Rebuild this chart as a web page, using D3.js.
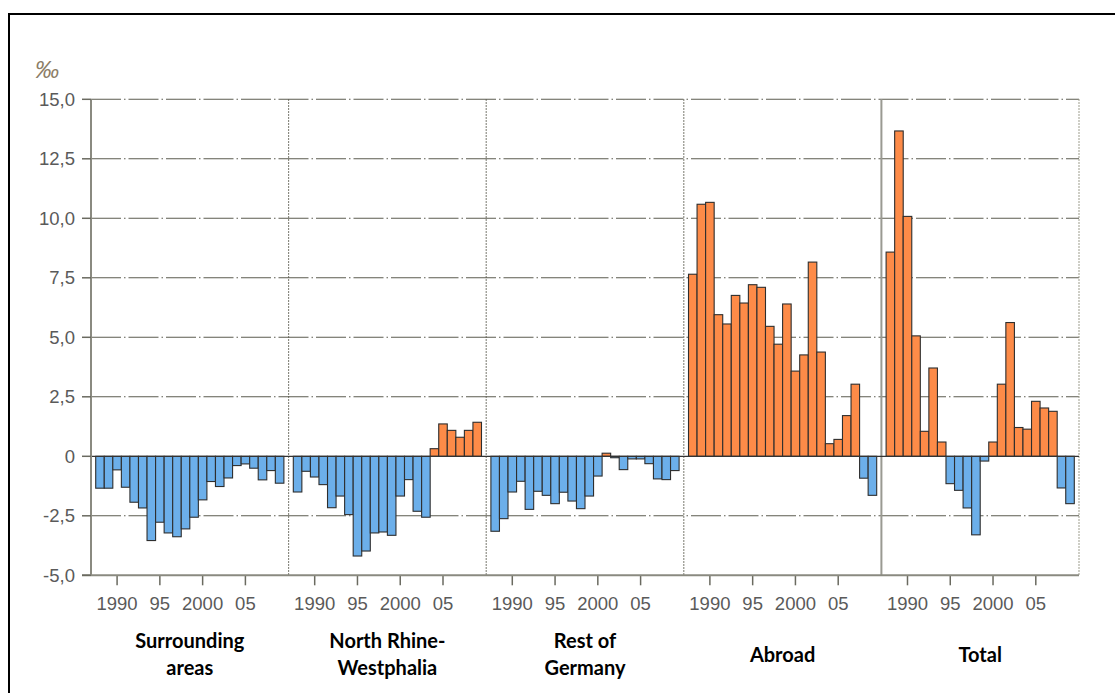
<!DOCTYPE html>
<html>
<head>
<meta charset="utf-8">
<script src="https://cdn.jsdelivr.net/npm/d3@7"></script>
<style>
  html, body { margin: 0; padding: 0; background: #fff; }
  svg { display: block; }
</style>
</head>
<body>
<svg id="chart" width="1115" height="693"></svg>
<script>
// ---------- data ----------
const years = [1988,1989,1990,1991,1992,1993,1994,1995,1996,1997,1998,1999,2000,2001,2002,2003,2004,2005,2006,2007,2008,2009];
const panels = ["Surrounding areas","North Rhine-Westphalia","Rest of Germany","Abroad","Total"];
const panelLabelLines = [["Surrounding","areas"],["North Rhine-","Westphalia"],["Rest of","Germany"],["Abroad"],["Total"]];
const surroundingAreas = [-1.34,-1.34,-0.57,-1.30,-1.93,-2.17,-3.54,-2.77,-3.22,-3.38,-3.05,-2.56,-1.83,-1.06,-1.27,-0.91,-0.39,-0.32,-0.50,-0.99,-0.60,-1.13];
const northRhineWestphalia = [-1.50,-0.63,-0.87,-1.19,-2.16,-1.67,-2.45,-4.19,-3.98,-3.22,-3.18,-3.32,-1.67,-0.98,-2.31,-2.56,0.32,1.36,1.09,0.80,1.09,1.43];
const restOfGermany = [-3.15,-2.62,-1.50,-1.05,-2.23,-1.47,-1.64,-1.99,-1.51,-1.88,-2.20,-1.67,-0.83,0.13,-0.06,-0.56,-0.11,-0.11,-0.31,-0.95,-0.98,-0.60];
const abroad = [7.65,10.59,10.67,5.95,5.56,6.76,6.44,7.21,7.10,5.46,4.71,6.40,3.58,4.26,8.16,4.38,0.53,0.71,1.71,3.03,-0.92,-1.64];
const total = [8.58,13.67,10.08,5.06,1.05,3.71,0.60,-1.15,-1.43,-2.17,-3.30,-0.20,0.60,3.03,5.62,1.21,1.14,2.31,2.03,1.89,-1.33,-1.99];
const seriesValues = [surroundingAreas, northRhineWestphalia, restOfGermany, abroad, total];
const yTicks = [15,12.5,10,7.5,5,2.5,0,-2.5,-5];
const yTickLabels = ["15,0","12,5","10,0","7,5","5,0","2,5","0","-2,5","-5,0"];
const xTickYears = [1990,1995,2000,2005];
const xTickLabels = ["1990","95","2000","05"];
const unitLabel = "‰";

// ---------- layout ----------
const svg = d3.select("#chart");
const plotLeft = 91, plotRight = 1079, plotTop = 99.3, plotBottom = 575.3;
const y = d3.scaleLinear().domain([-5, 15]).range([plotBottom, plotTop]);
const px = d3.scaleBand().domain(panels).range([plotLeft, plotRight]).padding(0);
const xIn = d3.scaleBand().domain(years).range([0, px.bandwidth()]).paddingInner(0).paddingOuter(0.55);

const posColor = "#fd8b48", negColor = "#6cafea";
const axisGray = "#8a8a80", gridColor = "#5c5c50", textGray = "#5a5a5a";

// outer frame
svg.append("rect").attr("x", 9).attr("y", 14).attr("width", 1130).attr("height", 700)
  .attr("fill", "none").attr("stroke", "#000").attr("stroke-width", 2);

// horizontal grid (dash-dot)
const gridVals = yTicks.filter(v => v !== 0 && v !== -5);
svg.append("g").selectAll("line").data(gridVals).join("line")
  .attr("x1", plotLeft).attr("x2", plotRight)
  .attr("y1", d => y(d)).attr("y2", d => y(d))
  .attr("stroke", gridColor).attr("stroke-width", 1.1)
  .attr("stroke-dasharray", "30,3,1.5,3");

// vertical dividers
panels.forEach((p, i) => {
  if (i === 0) return;
  const xx = px(p);
  if (p === "Total") {
    svg.append("line").attr("x1", xx).attr("x2", xx).attr("y1", plotTop).attr("y2", plotBottom)
      .attr("stroke", "#9a9a92").attr("stroke-width", 2);
  } else {
    svg.append("line").attr("x1", xx).attr("x2", xx).attr("y1", plotTop).attr("y2", plotBottom)
      .attr("stroke", gridColor).attr("stroke-width", 1.1).attr("stroke-dasharray", "1.5,1.5");
  }
});
svg.append("line").attr("x1", plotRight).attr("x2", plotRight).attr("y1", plotTop).attr("y2", plotBottom)
  .attr("stroke", "#9a9a8a").attr("stroke-width", 1.3).attr("stroke-dasharray", "1.5,1.5");

// bars
panels.forEach((p, i) => {
  const g = svg.append("g").attr("transform", `translate(${px(p)},0)`);
  const data = years.map((yr, k) => ({ yr, v: seriesValues[i][k] }));
  g.selectAll("rect").data(data).join("rect")
    .attr("x", d => xIn(d.yr))
    .attr("width", xIn.bandwidth())
    .attr("y", d => y(Math.max(0, d.v)))
    .attr("height", d => Math.abs(y(d.v) - y(0)))
    .attr("fill", d => d.v >= 0 ? posColor : negColor)
    .attr("stroke", "#2e2e2e").attr("stroke-width", 1.1);

  // x ticks
  const tg = g.append("g");
  xTickYears.forEach((yr, k) => {
    const cx = xIn(yr) + xIn.bandwidth() / 2;
    tg.append("line").attr("x1", cx).attr("x2", cx).attr("y1", plotBottom).attr("y2", plotBottom + 10)
      .attr("stroke", "#6a6a60").attr("stroke-width", 1.5);
    tg.append("text").attr("x", cx).attr("y", 610)
      .attr("text-anchor", "middle")
      .attr("font-family", "Liberation Sans, Arial, sans-serif")
      .attr("font-size", 18.5).attr("fill", textGray)
      .text(xTickLabels[k]);
  });

  // panel label
  const lines = panelLabelLines[i];
  const cx = px.bandwidth() / 2;
  const baselines = lines.length === 2 ? [648, 675] : [662];
  lines.forEach((ln, j) => {
    g.append("text").attr("x", cx).attr("y", baselines[j])
      .attr("text-anchor", "middle")
      .attr("font-family", "Lato, 'Open Sans', sans-serif")
      .attr("font-weight", "bold").attr("font-size", 20).attr("fill", "#000")
      .text(ln);
  });
});

// zero line
svg.append("line").attr("x1", plotLeft).attr("x2", plotRight).attr("y1", y(0)).attr("y2", y(0))
  .attr("stroke", "#333").attr("stroke-width", 1.2);

// y axis
svg.append("line").attr("x1", plotLeft).attr("x2", plotLeft).attr("y1", plotTop).attr("y2", plotBottom)
  .attr("stroke", axisGray).attr("stroke-width", 2);
svg.append("line").attr("x1", 82).attr("x2", plotRight).attr("y1", plotBottom).attr("y2", plotBottom)
  .attr("stroke", axisGray).attr("stroke-width", 2);
const yg = svg.append("g");
yTicks.forEach((v, k) => {
  yg.append("line").attr("x1", 82).attr("x2", plotLeft).attr("y1", y(v)).attr("y2", y(v))
    .attr("stroke", "#6a6a60").attr("stroke-width", 1.5);
  yg.append("text").attr("x", 75).attr("y", y(v)).attr("dy", "0.36em")
    .attr("text-anchor", "end")
    .attr("font-family", "Liberation Sans, Arial, sans-serif")
    .attr("font-size", 18.5).attr("fill", textGray)
    .text(yTickLabels[k]);
});
svg.append("text").attr("x", 35).attr("y", 78)
  .attr("font-family", "Liberation Sans, Arial, sans-serif")
  .attr("font-style", "italic")
  .attr("font-size", 24).attr("fill", "#8c7d66")
  .text(unitLabel);
</script>
</body>
</html>
